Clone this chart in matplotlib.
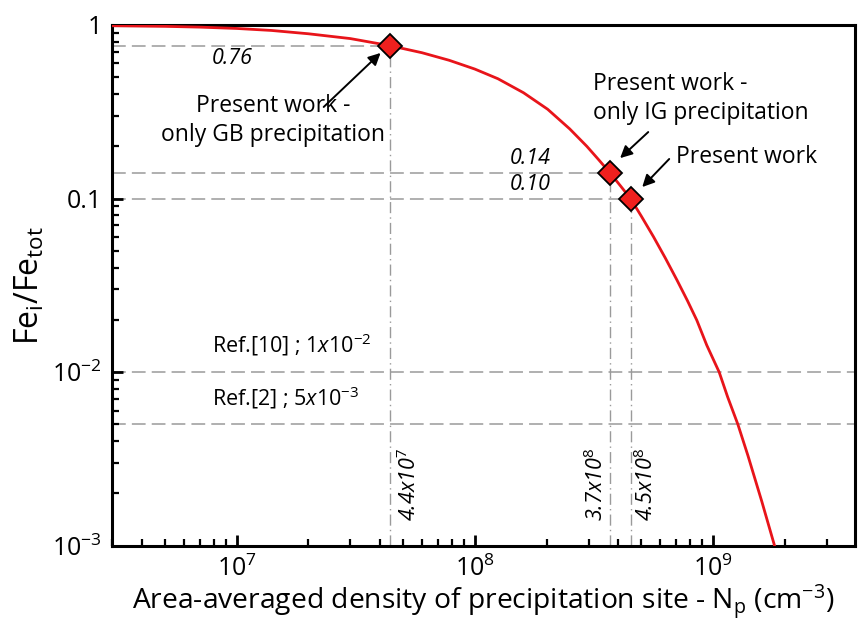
import matplotlib
matplotlib.use("Agg")
import matplotlib.pyplot as plt
from matplotlib.ticker import LogLocator, NullFormatter, FixedLocator, FixedFormatter

plt.rcParams['font.family'] = ['Open Sans', 'DejaVu Sans']
plt.rcParams['mathtext.fontset'] = 'custom'
plt.rcParams['mathtext.rm'] = 'Open Sans'
plt.rcParams['mathtext.it'] = 'Open Sans:italic'

# Curve
curve_np = [3.0e6, 5e6, 7e6, 1.0e7, 1.4e7, 2.0e7, 3.0e7, 4.4e7, 6.0e7, 7.8e7,
            1.0e8, 1.25e8, 1.6e8, 2.02e8, 2.5e8, 2.95e8, 3.3e8, 3.7e8, 4.1e8, 4.5e8,
            5.0e8, 5.62e8, 6.3e8, 7.05e8, 7.8e8, 8.54e8, 9.4e8, 1.06e9, 1.15e9, 1.27e9,
            1.4e9, 1.6e9, 1.81e9]
curve_frac = [0.99, 0.982, 0.972, 0.955, 0.93, 0.89, 0.835, 0.76, 0.692, 0.626,
              0.557, 0.49, 0.407, 0.327, 0.252, 0.20, 0.168, 0.14, 0.1175, 0.10,
              0.079, 0.0602, 0.0454, 0.0339, 0.0258, 0.0199, 0.0143, 0.010, 0.0072, 0.005,
              0.0033, 0.0018, 0.001]

# Highlighted points (present work)
pt_np = [4.4e7, 3.7e8, 4.5e8]
pt_frac = [0.76, 0.14, 0.10]
pt_xlabels = [r'4.4x10$^{7}$', r'3.7x10$^{8}$', r'4.5x10$^{8}$']
pt_ylabels = ['0.76', '0.14', '0.10']

# Literature reference levels
ref_frac = [1e-2, 5e-3]
ref_labels = [r'Ref.[10] ; $\it{1x10^{-2}}$', r'Ref.[2] ; $\it{5x10^{-3}}$']

ytick_vals = [1e-3, 1e-2, 0.1, 1]
ytick_labels = [r'10$^{-3}$', r'10$^{-2}$', '0.1', '1']
xtick_vals = [1e7, 1e8, 1e9]
xtick_labels = [r'10$^{7}$', r'10$^{8}$', r'10$^{9}$']

fig = plt.figure(figsize=(8.67, 6.26), dpi=100)
ax = fig.add_axes([0.1292, 0.1283, 0.8570, 0.8318])
ax.set_xscale('log')
ax.set_yscale('log')
ax.set_xlim(3.0e6, 3.94e9)
ax.set_ylim(1e-3, 1)

gray = '#9a9a9a'
xmin = ax.get_xlim()[0]
ymin = ax.get_ylim()[0]
# guide lines
for xv, yv in zip(pt_np, pt_frac):
    ax.plot([xmin, xv], [yv, yv], color=gray, lw=1.1, dashes=(9, 4), zorder=1)
    ax.plot([xv, xv], [ymin, yv], color=gray, lw=1.0, dashes=(8, 3, 1, 3), zorder=1)
for yv in ref_frac:
    ax.axhline(yv, color=gray, lw=1.1, dashes=(9, 4), zorder=1)

ax.plot(curve_np, curve_frac, color='#e8141a', lw=2.0, zorder=3)
ax.plot(pt_np, pt_frac, linestyle='none', marker='D', markersize=12.5,
        markerfacecolor='#f0201e', markeredgecolor='black', markeredgewidth=1.3, zorder=5)

# value labels
fs_it = 15.5
ax.text(9.6e6, 0.645, pt_ylabels[0], ha='center', va='center', fontsize=fs_it, style='italic')
ax.text(1.7e8, 0.171, pt_ylabels[1], ha='center', va='center', fontsize=fs_it, style='italic')
ax.text(1.7e8, 0.12, pt_ylabels[2], ha='center', va='center', fontsize=fs_it, style='italic')

xoffs = [1.2, 0.87, 1.16]
for xv, lab, off in zip(pt_np, pt_xlabels, xoffs):
    ax.text(xv * off, 2.25e-3, lab, rotation=90, ha='center', va='center',
            fontsize=fs_it, style='italic')

for yv, lab in zip(ref_frac, ref_labels):
    ax.text(7.86e6, yv * 1.2, lab, ha='left', va='bottom', fontsize=15.5)

# annotations
fs = 16.5
arrow_kw = dict(arrowstyle='-|>', color='black', lw=1.4, mutation_scale=18,
                shrinkA=0, shrinkB=0)
ax.text(1.42e7, 0.282, 'Present work -\nonly GB precipitation', ha='center', va='center',
        fontsize=fs, linespacing=1.3)
ax.annotate('', xy=(4.02e7, 0.69), xytext=(2.32e7, 0.337), arrowprops=arrow_kw)
ax.text(3.14e8, 0.377, 'Present work -\nonly IG precipitation', ha='left', va='center',
        fontsize=fs, linespacing=1.3)
ax.annotate('', xy=(4.07e8, 0.171), xytext=(5.34e8, 0.2416), arrowprops=arrow_kw)
ax.text(7.0e8, 0.173, 'Present work', ha='left', va='center', fontsize=fs)
ax.annotate('', xy=(5.04e8, 0.1165), xytext=(6.54e8, 0.169), arrowprops=arrow_kw)

# axes styling
for s in ax.spines.values():
    s.set_linewidth(2.2)
ax.yaxis.set_major_locator(FixedLocator(ytick_vals))
ax.yaxis.set_major_formatter(FixedFormatter(ytick_labels))
ax.xaxis.set_major_locator(FixedLocator(xtick_vals))
ax.xaxis.set_major_formatter(FixedFormatter(xtick_labels))
ax.xaxis.set_minor_locator(LogLocator(base=10, subs=range(2, 10), numticks=20))
ax.yaxis.set_minor_locator(LogLocator(base=10, subs=range(2, 10), numticks=20))
ax.xaxis.set_minor_formatter(NullFormatter())
ax.yaxis.set_minor_formatter(NullFormatter())
ax.tick_params(which='major', direction='in', length=8, width=2, labelsize=18, pad=7,
               top=False, right=False)
ax.tick_params(which='minor', direction='in', length=5, width=1.6, top=False, right=False)

ax.set_ylabel(r'Fe$_{\mathrm{i}}$/Fe$_{\mathrm{tot}}$', fontsize=23, labelpad=4)
ax.set_xlabel(r'Area-averaged density of precipitation site - N$_{\mathrm{p}}$ (cm$^{-3}$)',
              fontsize=20.3, labelpad=1)

fig.savefig('out.png', dpi=100)
